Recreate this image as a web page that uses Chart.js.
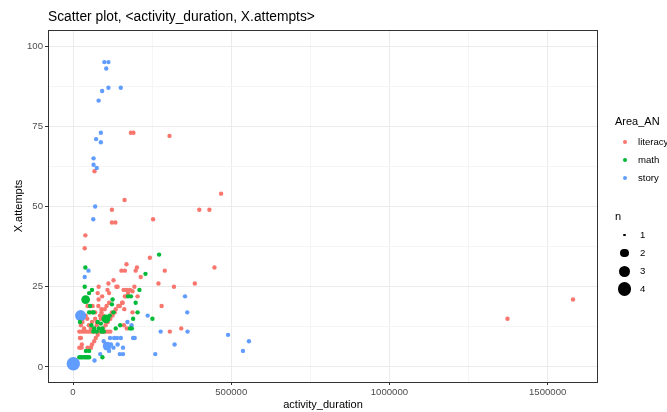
<!DOCTYPE html>
<html>
<head>
<meta charset="utf-8">
<script src="https://cdn.jsdelivr.net/npm/chart.js@4.4.1/dist/chart.umd.min.js"></script>
<style>
  body { margin: 0; background: #fff; font-family: "Liberation Sans", Arial, sans-serif; }
  #wrap { position: relative; width: 667px; height: 412px; }
  #title { position: absolute; left: 48px; top: 9px; font-size: 13.8px; color: #000; white-space: nowrap; }
  .legend { position: absolute; left: 615px; color: #000; white-space: nowrap; }
  .ltitle { position: absolute; font-size: 11px; }
  .litem { position: absolute; font-size: 9.6px; left: 23px; }
  .dot { position: absolute; border-radius: 50%; }
</style>
</head>
<body>
<div id="wrap">
  <canvas id="chart" width="667" height="412"></canvas>
  <div id="title">Scatter plot, &lt;activity_duration, X.attempts&gt;</div>
  <div id="legend"></div>
</div>
<script>
const areaNames = ["literacy", "math", "story"];
const areaColors = ["#F8766D", "#00BA38", "#619CFF"];
const countLevels = [1, 2, 3, 4];
const countRadius = [2.2, 4.4, 5.5, 6.7];
const legendRadius = [1.2, 4.4, 5.5, 6.7];

const xTicks = [0, 250000, 500000, 750000, 1000000, 1250000, 1500000];
const yTicks = [0, 12.5, 25, 37.5, 50, 62.5, 75, 87.5, 100];

const literacyDuration = [68000, 183000, 191000, 305000, 163000, 123000, 399000, 431000, 468000, 123000,
  134000, 253000, 39000, 37000, 243000, 169000, 153000, 164000, 202000, 198000,
  290000, 214000, 447000, 128000, 112000, 270000, 385000, 319000, 137000, 81000,
  78000, 92000, 81000, 1373000, 1580000, 280000, 342000, 306000, 204000,
  109000, 114000, 141000, 106000, 114000, 62000, 160000, 170000, 180000, 188000,
  174000, 164000, 157000, 162000, 188000, 194000, 148000, 155000, 143000, 135000,
  123000, 114000, 118000, 110000, 103000, 95000, 125000, 132000, 167000, 161000, 170000,
  46000, 80000, 100000, 90000, 55000, 70000, 90000, 40000, 85000, 95000,
  30000, 45000, 70000, 88000, 30000, 60000, 75000, 25000, 50000, 75000, 35000, 57000,
  20000, 27000, 34000, 41000, 48000, 55000, 62000, 69000, 76000, 83000, 90000, 97000, 104000, 111000, 118000,
  78000, 22000, 25000, 72000, 67000, 28000, 60000, 102000, 20000, 46000, 53000, 57000, 27000];
const literacyAttempts = [61, 73, 73, 72, 52, 49, 49, 49, 54, 45,
  45, 46, 41, 37, 34, 32, 30, 30, 31, 30,
  30, 28, 31, 27, 26, 26, 26, 25, 25, 25,
  23, 22, 21, 15, 21, 19, 12, 11, 22,
  24, 23, 25, 19, 20, 19, 24, 24, 24, 23.6,
  23, 22, 20, 18, 17, 25, 19, 20, 19, 18,
  17, 15.4, 15, 14, 13, 12, 16, 17, 22, 13, 12,
  19, 19, 18, 18, 17, 17, 17, 16, 16, 16,
  15, 15, 15, 15, 14, 14, 14, 13, 13, 13, 12, 12,
  11, 11, 11, 11, 11, 11, 11, 11, 11, 11, 11, 11, 11, 11, 11,
  10, 9, 9, 9, 8, 7, 7, 7, 6, 6, 6, 6, 6];
const literacyCount = [];

const mathDuration = [40000, 104000, 272000, 39000, 229000, 37000, 210000, 60000, 51000, 54000,
  125000, 123000, 174000, 183000, 198000, 204000, 128000, 190000, 251000,
  180000, 186000, 149000, 135000, 22000, 65000, 62000, 51000,
  78000, 88000, 93000, 67000, 82000, 97000, 64000, 75000, 90000,
  20000, 25000, 30000, 36000, 41000, 46000, 51000, 93000,
  41000, 51000, 116000, 58000];
const mathAttempts = [21, 15, 35, 31, 29, 25, 24, 24, 23, 19,
  21, 19.5, 22, 22, 20, 17, 17, 15, 15,
  12, 12, 13, 12, 14, 17, 17, 17,
  14, 13.5, 12, 12, 12, 11, 11, 11, 11,
  3, 3, 3, 3, 3, 3, 3, 3,
  5, 5, 16, 13];
const mathCount = [2, 2];

const storyDuration = [1000, 24000, 108000, 99000, 112000, 105000, 112000, 151000, 92000, 81000,
  88000, 73000, 88000, 65000, 65000, 75000, 70000, 64000, 49000, 37000,
  97000, 117000, 130000, 139000, 151000, 190000, 195000, 120000, 128000, 141000,
  158000, 86000, 148000, 158000, 68000, 172000, 185000, 236000, 277000, 321000,
  260000, 354000, 361000, 362000, 490000, 556000, 537000, 114000];
const storyAttempts = [1, 16, 6.5, 95, 95, 93, 87, 87, 86, 83,
  73, 71, 70, 65, 63, 62, 50, 46, 30, 28,
  8, 9, 9, 9, 9, 9, 9, 7, 6, 7,
  6, 4, 4, 4, 2, 14, 13, 16, 11, 7,
  4, 22, 17, 11, 10, 8, 5, 5];
const storyCount = [4, 3, 2];

function toPoints(dur, att, cnt) {
  return dur.map((d, i) => ({ x: d, y: att[i], n: cnt[i] || 1 }));
}

function makeSet(idx, dur, att, cnt) {
  return {
    label: areaNames[idx],
    data: toPoints(dur, att, cnt),
    backgroundColor: areaColors[idx],
    borderWidth: 0,
    pointRadius: (ctx) => countRadius[(ctx.raw ? ctx.raw.n : 1) - 1],
    pointHoverRadius: (ctx) => countRadius[(ctx.raw ? ctx.raw.n : 1) - 1],
  };
}

// panel border like ggplot theme_bw
const panelBorder = {
  id: "panelBorder",
  afterDraw(chart) {
    const { ctx, chartArea: a } = chart;
    ctx.save();
    ctx.strokeStyle = "#333333";
    ctx.lineWidth = 1;
    ctx.strokeRect(a.left + 0.5, a.top + 0.5, a.right - a.left - 1, a.bottom - a.top);
    ctx.restore();
  },
};

Chart.defaults.font.family = "'Liberation Sans', Arial, sans-serif";

new Chart(document.getElementById("chart"), {
  type: "scatter",
  data: {
    datasets: [
      makeSet(1, mathDuration, mathAttempts, mathCount),
      makeSet(2, storyDuration, storyAttempts, storyCount),
      makeSet(0, literacyDuration, literacyAttempts, literacyCount),
    ],
  },
  options: {
    responsive: false,
    animation: false,
    layout: { padding: { left: 0, top: 30, right: 69, bottom: 0 } },
    plugins: { legend: { display: false }, tooltip: { enabled: false } },
    scales: {
      x: {
        type: "linear",
        min: -79000,
        max: 1659000,
        afterBuildTicks: (s) => { s.ticks = xTicks.map((v) => ({ value: v })); },
        afterFit: (s) => { s.height = 30; },
        border: { display: false },
        grid: {
          color: (c) => (c.tick && c.tick.value % 500000 === 0 ? "#ebebeb" : "#f5f5f5"),
          tickColor: (c) => (c.tick && c.tick.value % 500000 === 0 ? "#333333" : "rgba(0,0,0,0)"),
          tickLength: 3,
        },
        ticks: {
          padding: 2,
          maxRotation: 0,
          autoSkip: false,
          color: "#4d4d4d",
          font: { size: 9.6 },
          callback: (v) => (v % 500000 === 0 ? String(v) : ""),
        },
        title: { display: true, text: "activity_duration", color: "#000", font: { size: 11 }, padding: { top: 0, bottom: 0 } },
      },
      y: {
        type: "linear",
        min: -4.7,
        max: 105,
        afterBuildTicks: (s) => { s.ticks = yTicks.map((v) => ({ value: v })); },
        afterFit: (s) => { s.width = 48; },
        border: { display: false },
        grid: {
          color: (c) => (c.tick && c.tick.value % 25 === 0 ? "#ebebeb" : "#f5f5f5"),
          tickColor: (c) => (c.tick && c.tick.value % 25 === 0 ? "#333333" : "rgba(0,0,0,0)"),
          tickLength: 3,
        },
        ticks: {
          padding: 2,
          autoSkip: false,
          color: "#4d4d4d",
          font: { size: 9.6 },
          callback: (v) => (v % 25 === 0 ? String(v) : ""),
        },
        title: { display: true, text: "X.attempts", color: "#000", font: { size: 11 }, padding: { top: 12, bottom: 0 } },
      },
    },
  },
  plugins: [panelBorder],
});

// legend (two guides, like ggplot)
function buildLegend() {
  const box = document.getElementById("legend");
  let html = '<div class="legend" style="top:0">';
  html += '<div class="ltitle" style="top:115px;left:0">Area_AN</div>';
  areaNames.forEach((name, i) => {
    const cy = 142 + i * 18;
    html += `<div class="dot" style="left:${10 - 2.2}px;top:${cy - 2.2}px;width:4.4px;height:4.4px;background:${areaColors[i]}"></div>`;
    html += `<div class="litem" style="top:${cy - 6}px">${name}</div>`;
  });
  html += '<div class="ltitle" style="top:210px;left:0">n</div>';
  countLevels.forEach((n, i) => {
    const cy = 235 + i * 18;
    const r = legendRadius[i];
    html += `<div class="dot" style="left:${9.5 - r}px;top:${cy - r}px;width:${2 * r}px;height:${2 * r}px;background:#000"></div>`;
    html += `<div class="litem" style="top:${cy - 6}px;left:25px">${n}</div>`;
  });
  html += "</div>";
  box.innerHTML = html;
}
buildLegend();
</script>
</body>
</html>
